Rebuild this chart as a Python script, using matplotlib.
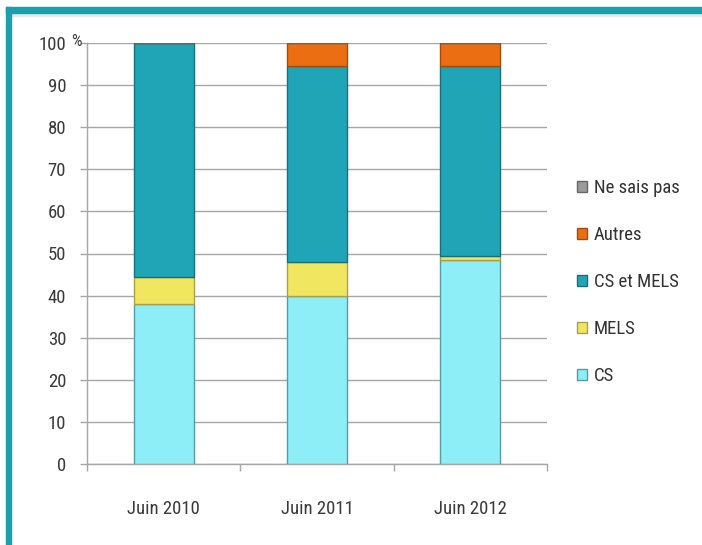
import numpy as np
import matplotlib
matplotlib.use("Agg")
import matplotlib.pyplot as plt
import matplotlib.font_manager as fm
from matplotlib.patches import Rectangle
from matplotlib.transforms import offset_copy

# Répartition des réponses par année (%)
annees = ["Juin 2010", "Juin 2011", "Juin 2012"]
series = ["CS", "MELS", "CS et MELS", "Autres", "Ne sais pas"]
cs = [38.0, 40.0, 48.5]
mels = [6.5, 8.0, 1.0]
cs_et_mels = [55.5, 46.5, 45.0]
autres = [0.0, 5.5, 5.5]
ne_sais_pas = [0.0, 0.0, 0.0]
graduations = [0, 10, 20, 30, 40, 50, 60, 70, 80, 90, 100]

couleurs = ["#8eeef8", "#f1e660", "#20a5b6", "#ec6e12", "#9a9a9a"]
bordures = ["#5a9aa3", "#a8a04a", "#1a6f7a", "#a24c10", "#666666"]


def choisir_police():
    """Police étroite si disponible, sinon Lato"""
    dispo = {f.name for f in fm.fontManager.ttflist}
    for nom in ["Roboto Condensed", "Liberation Sans Narrow",
                "DejaVu Sans Condensed", "Lato"]:
        if nom in dispo:
            return nom
    return "DejaVu Sans"


police = choisir_police()
plt.rcParams["font.family"] = [police, "DejaVu Sans"]

fig = plt.figure(figsize=(7.02, 5.45), dpi=100)
fig.patch.set_facecolor("white")

# cadre turquoise (haut et gauche)
cadre = "#1b9fac"
fig.patches.append(Rectangle((6 / 702, 0), 5 / 702, 1 - 7 / 545,
                             transform=fig.transFigure, color=cadre, zorder=5))
fig.patches.append(Rectangle((6 / 702, 1 - 13 / 545), 1, 6 / 545,
                             transform=fig.transFigure, color=cadre, zorder=5))
fig.patches.append(Rectangle((11 / 702, 1 - 16 / 545), 1, 3 / 545,
                             transform=fig.transFigure, color="#e8e8e8", zorder=4))

ax = fig.add_axes([87 / 702, 1 - 464 / 545, 460 / 702, 421 / 545])

x = np.arange(len(annees))
largeur = 0.39
donnees = [cs, mels, cs_et_mels, autres, ne_sais_pas]
bas = np.zeros(len(annees))
barres = []
for nom, vals, c, b in zip(series, donnees, couleurs, bordures):
    vals = np.array(vals)
    h = ax.bar(x, vals, largeur, bottom=bas, color=c, edgecolor=b,
               linewidth=1.0, label=nom, zorder=3)
    barres.append(h)
    bas += vals

ax.set_xlim(-0.5, 2.5)
ax.set_ylim(0, 100)
ax.set_yticks(graduations)
ax.set_yticklabels([str(g) for g in graduations])
ax.yaxis.grid(True, color="#a6a6a6", linewidth=1.0, zorder=0)
ax.set_axisbelow(True)

ax.set_xticks(x)
ax.set_xticklabels(annees)
ax.set_xticks([-0.5, 0.5, 1.5, 2.5], minor=True)
ax.tick_params(axis="x", which="major", length=0, pad=26,
               labelsize=13.5, labelcolor="#3a3a3a")
ax.tick_params(axis="x", which="minor", length=5, width=1, color="#a6a6a6",
               direction="out")
ax.tick_params(axis="y", length=5, width=1, color="#a6a6a6", pad=10,
               labelsize=13.5, labelcolor="#3a3a3a")

for s in ["top", "right"]:
    ax.spines[s].set_visible(False)
for s in ["left", "bottom"]:
    ax.spines[s].set_color("#a6a6a6")
    ax.spines[s].set_linewidth(1.0)

# signe % à côté du 100
trans = offset_copy(ax.get_yaxis_transform(), fig=fig, x=-16, y=1, units="dots")
ax.text(0, 100, "%", transform=trans, ha="left", va="center",
        fontsize=12, color="#3a3a3a")

leg = ax.legend(handles=barres[::-1], labels=series[::-1],
                loc="center left", bbox_to_anchor=(577 / 702, 1 - 282 / 545),
                bbox_transform=fig.transFigure, frameon=False, fontsize=13.5,
                handlelength=0.55, handleheight=0.55, handletextpad=0.35,
                labelspacing=1.55, borderpad=0, borderaxespad=0)
for t in leg.get_texts():
    t.set_color("#333333")

fig.savefig("out.png", dpi=100)
